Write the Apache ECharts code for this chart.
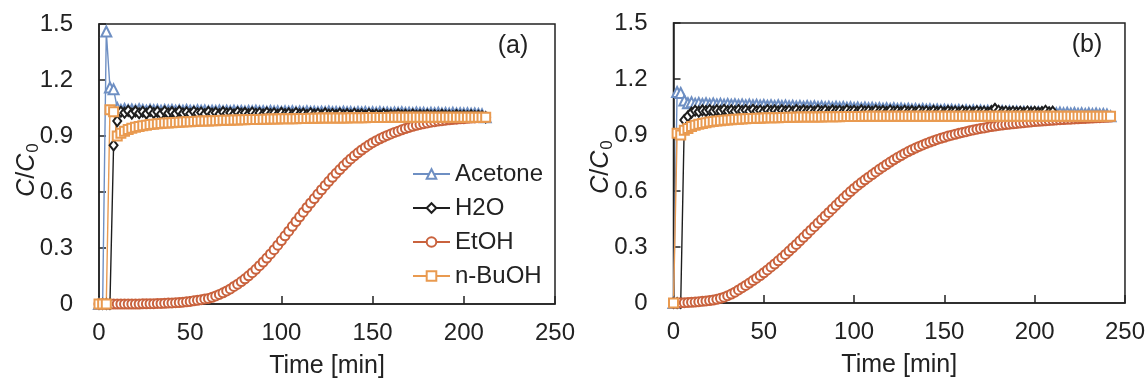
<!DOCTYPE html>
<html><head><meta charset="utf-8">
<script src="https://cdn.jsdelivr.net/npm/echarts@6/dist/echarts.min.js"></script>
<style>html,body{margin:0;padding:0;background:#fff}#c{width:1148px;height:384px}</style>
</head><body><div id="c"></div>
<script>
// ---------- Panel (a) ----------
const timeA = [0,2,4,6,8,10,12,14,16,18,20,22,24,26,28,30,32,34,36,38,40,42,44,46,48,50,52,54,56,58,60,62,64,66,68,70,72,74,76,78,80,82,84,86,88,90,92,94,96,98,100,102,104,106,108,110,112,114,116,118,120,122,124,126,128,130,132,134,136,138,140,142,144,146,148,150,152,154,156,158,160,162,164,166,168,170,172,174,176,178,180,182,184,186,188,190,192,194,196,198,200,202,204,206,208,210,212];
const acetoneA = [0,0,1.46,1.16,1.15,1.05,1.04,1.045,1.04,1.042,
1.038,1.043,1.04,1.036,1.041,1.038,1.04,1.035,1.039,1.037,
1.04,1.036,1.038,1.035,1.039,1.036,1.034,1.038,1.035,1.037,
1.033,1.036,1.034,1.037,1.033,1.035,1.032,1.036,1.033,1.034,
1.031,1.034,1.032,1.035,1.031,1.033,1.03,1.034,1.031,1.032,
1.029,1.032,1.03,1.033,1.029,1.031,1.028,1.032,1.029,1.03,
1.027,1.03,1.028,1.031,1.027,1.029,1.026,1.03,1.027,1.028,
1.025,1.028,1.026,1.029,1.025,1.027,1.024,1.028,1.025,1.026,
1.023,1.026,1.024,1.027,1.023,1.025,1.022,1.026,1.023,1.024,
1.021,1.024,1.022,1.025,1.021,1.023,1.02,1.024,1.021,1.022,
1.02,1.022,1.019,1.021,1.018,1.016,1.0];
const h2oA = [0,0,0,0,0.85,0.98,1.03,1.025,1.035,1.02,
1.032,1.022,1.03,1.02,1.034,1.023,1.03,1.018,1.031,1.022,
1.028,1.02,1.032,1.021,1.027,1.019,1.03,1.022,1.026,1.018,
1.029,1.02,1.025,1.017,1.028,1.021,1.024,1.016,1.027,1.02,
1.024,1.017,1.026,1.019,1.023,1.016,1.025,1.018,1.022,1.015,
1.024,1.017,1.021,1.015,1.023,1.016,1.02,1.014,1.022,1.016,
1.019,1.013,1.021,1.015,1.018,1.013,1.02,1.014,1.017,1.012,
1.019,1.013,1.016,1.011,1.018,1.012,1.015,1.011,1.017,1.012,
1.014,1.01,1.016,1.011,1.013,1.009,1.015,1.01,1.012,1.009,
1.014,1.009,1.011,1.008,1.013,1.009,1.01,1.007,1.012,1.008,
1.009,1.007,1.011,1.007,1.008,1.006,1.0];
const etohA = [0,0,0,0,0,0,0,0,0,0,
0,0,0.001,0.001,0.002,0.002,0.003,0.003,0.004,0.005,
0.006,0.007,0.008,0.01,0.012,0.014,0.017,0.02,0.023,0.027,
0.03,0.036,0.043,0.051,0.06,0.07,0.081,
0.094,0.106,0.12,0.135,0.151,0.168,0.186,0.205,0.225,0.246,
0.268,0.291,0.315,0.34,0.365,0.39,0.416,0.442,0.467,0.492,
0.517,0.541,0.565,0.589,0.612,0.635,0.657,0.679,0.7,0.72,
0.74,0.759,0.777,0.794,0.81,0.825,0.839,0.852,0.864,0.875,
0.885,0.894,0.903,0.911,0.919,0.926,0.933,0.94,0.946,0.952,
0.957,0.962,0.966,0.97,0.974,0.977,0.98,0.982,0.985,0.987,
0.989,0.99,0.992,0.993,0.995,0.996,0.997,0.998,0.999,1.0];
const buohA = [0,0,0,1.04,1.03,0.9,0.915,0.925,0.935,0.942,
0.947,0.951,0.955,0.958,0.961,0.963,0.965,0.967,0.969,0.97,
0.971,0.972,0.974,0.975,0.976,0.977,0.978,0.979,0.98,0.98,
0.981,0.982,0.982,0.983,0.984,0.984,0.985,0.986,0.986,0.987,
0.987,0.988,0.988,0.989,0.989,0.99,0.99,0.991,0.991,0.991,
0.992,0.992,0.993,0.993,0.993,0.994,0.994,0.994,0.995,0.995,
0.995,0.996,0.996,0.996,0.996,0.997,0.997,0.997,0.997,0.998,
0.998,0.998,0.998,0.998,0.999,0.999,0.999,0.999,0.999,0.999,
1,1,1,1,1,1,1,1,1,1,
1,1,1,1,1,1,1,1,1,1,
1,1,1,1,1,1,1];

// ---------- Panel (b) ----------
const timeB = [0,2,4,6,8,10,12,14,16,18,20,22,24,26,28,30,32,34,36,38,40,42,44,46,48,50,52,54,56,58,60,62,64,66,68,70,72,74,76,78,80,82,84,86,88,90,92,94,96,98,100,102,104,106,108,110,112,114,116,118,120,122,124,126,128,130,132,134,136,138,140,142,144,146,148,150,152,154,156,158,160,162,164,166,168,170,172,174,176,178,180,182,184,186,188,190,192,194,196,198,200,202,204,206,208,210,212,214,216,218,220,222,224,226,228,230,232,234,236,238,240,242];
const acetoneB = [0,1.13,1.125,1.085,1.07,1.075,1.068,1.072,1.066,1.07,
1.065,1.069,1.064,1.067,1.063,1.066,1.062,1.065,1.061,1.064,
1.06,1.063,1.059,1.062,1.058,1.061,1.057,1.06,1.056,1.059,
1.055,1.058,1.054,1.057,1.053,1.056,1.052,1.055,1.051,1.054,
1.05,1.053,1.049,1.052,1.048,1.051,1.047,1.05,1.046,1.049,
1.045,1.048,1.044,1.047,1.043,1.046,1.042,1.045,1.041,1.044,
1.04,1.043,1.039,1.042,1.038,1.041,1.037,1.04,1.036,1.039,
1.035,1.038,1.034,1.037,1.033,1.036,1.032,1.035,1.031,1.034,
1.03,1.033,1.029,1.032,1.028,1.031,1.027,1.03,1.026,1.029,
1.025,1.028,1.024,1.027,1.023,1.026,1.022,1.025,1.021,1.024,
1.02,1.023,1.019,1.022,1.018,1.021,1.017,1.02,1.016,1.019,
1.015,1.018,1.014,1.017,1.013,1.016,1.012,1.015,1.011,1.013,
1.01,1.0];
const h2oB = [0,0,0,0.98,1.0,1.02,1.03,1.025,1.032,1.028,
1.034,1.027,1.033,1.029,1.035,1.028,1.032,1.027,1.034,1.029,
1.033,1.027,1.035,1.028,1.031,1.026,1.034,1.029,1.032,1.027,
1.033,1.028,1.031,1.026,1.034,1.027,1.032,1.028,1.03,1.026,
1.033,1.027,1.031,1.025,1.032,1.028,1.03,1.026,1.033,1.027,
1.03,1.025,1.032,1.027,1.029,1.025,1.031,1.026,1.029,1.024,
1.031,1.026,1.028,1.024,1.03,1.025,1.028,1.023,1.03,1.025,
1.027,1.023,1.029,1.024,1.027,1.022,1.028,1.024,1.026,1.022,
1.028,1.023,1.026,1.022,1.027,1.023,1.025,1.021,1.028,1.04,
1.03,1.024,1.026,1.021,1.025,1.022,1.024,1.02,1.026,1.021,
1.024,1.02,1.023,1.03,1.022,1.025];
const etohB = [0,0,0.001,0.002,0.003,0.004,0.005,0.007,0.009,0.011,
0.013,0.016,0.02,0.025,0.031,0.039,0.048,0.058,
0.07,0.082,0.094,0.107,0.12,0.133,0.147,0.162,0.177,0.193,
0.209,0.226,0.243,0.26,0.278,0.296,0.314,0.333,0.352,0.371,
0.39,0.409,0.428,0.447,0.466,0.485,0.504,0.523,0.542,0.561,
0.579,0.597,0.614,0.63,0.645,0.66,0.674,0.688,0.702,0.716,
0.729,0.742,0.755,0.767,0.779,0.79,0.801,0.811,0.821,0.83,
0.839,0.847,0.855,0.862,0.869,0.876,0.882,0.888,0.894,0.899,
0.904,0.909,0.914,0.918,0.923,0.927,0.931,0.935,0.938,0.942,
0.945,0.948,0.951,0.953,0.956,0.958,0.96,0.962,0.964,0.966,
0.968,0.97,0.972,0.973,0.975,0.976,0.978,0.979,0.981,0.982,
0.983,0.984,0.985,0.986,0.987,0.988,0.989,0.99,0.991,0.992,
0.993,0.994,0.995,0.996];
const buohB = [0,0.91,0.9,0.925,0.935,0.945,0.952,0.957,0.962,0.966,
0.969,0.972,0.975,0.977,0.979,0.981,0.982,0.984,0.985,0.986,
0.987,0.988,0.989,0.99,0.99,0.991,0.992,0.992,0.993,0.993,
0.994,0.994,0.995,0.995,0.995,0.996,0.996,0.996,0.997,0.997,
0.997,0.997,0.998,0.998,0.998,0.998,0.998,0.999,0.999,0.999,
0.999,0.999,0.999,1,1,1,1,1,1,1,
1,1,1,1,1,1,1,1,1,1,
1,1,1,1,1,1,1,1,1,1,
1,1,1,1,1,1,1,1,1,1,
1,1,1,1,1,1,1,1,1,1,
1,1,1,1,1,1,1,1,1,1,
1,1,1,1,1,1,1,1,1,1,
1,1];

const seriesNames = ['Acetone','H2O','EtOH','n-BuOH'];
const xTicks = {min:0, max:250, step:50};
const yTicks = {min:0, max:1.5, step:0.3};
const panelLabels = ['(a)','(b)'];
const xTitle = 'Time [min]';

const FONT = 'Liberation Sans, Arial, sans-serif';
const INK = '#222';
const colors = {'Acetone':'#6e8fc3','H2O':'#1e1e1e','EtOH':'#c9623d','n-BuOH':'#e99a50'};
const symbols = {'Acetone':'emptyTriangle','H2O':'emptyDiamond','EtOH':'emptyCircle','n-BuOH':'emptyRect'};
const sizes = {'Acetone':10,'H2O':[8,10],'EtOH':9,'n-BuOH':9};

function pairs(t, v){ return v.map((y,i)=>[t[i], y]); }

function mkX(idx){
  return {type:'value', gridIndex:idx, min:xTicks.min, max:xTicks.max, interval:xTicks.step,
    axisLine:{show:true, onZero:false, lineStyle:{color:INK, width:1.5}},
    axisTick:{show:true, inside:true, length:8, lineStyle:{color:INK, width:1.5}},
    axisLabel:{fontSize:24, color:INK, margin:17, fontFamily:FONT},
    splitLine:{show:false},
    name:xTitle, nameLocation:'middle', nameGap:50,
    nameTextStyle:{fontSize:25, color:INK, fontFamily:FONT}};
}
function mkY(idx){
  return {type:'value', gridIndex:idx, min:yTicks.min, max:yTicks.max, interval:yTicks.step,
    axisLine:{show:true, onZero:false, lineStyle:{color:INK, width:1.5}},
    axisTick:{show:true, inside:true, length:7, lineStyle:{color:INK, width:1.5}},
    axisLabel:{fontSize:24, color:INK, margin:26, fontFamily:FONT},
    splitLine:{show:false}};
}
function yTitle(x, y){
  return {type:'text', x:x, y:y, rotation:Math.PI/2, z:10,
    style:{text:'{i|C}{n|/}{i|C}{s|0}', align:'center', verticalAlign:'middle', fill:INK,
      font:'24px ' + FONT,
      rich:{i:{fontStyle:'italic', fontSize:25, fill:INK, fontFamily:FONT},
            n:{fontSize:25, fill:INK, fontFamily:FONT},
            s:{fontSize:17, fill:INK, fontFamily:FONT, padding:[12,0,0,1]}}}};
}
function mkSeries(name, t, v, idx){
  const c = colors[name];
  return {name, type:'line', xAxisIndex:idx, yAxisIndex:idx, data:pairs(t,v),
    symbol:symbols[name], symbolSize:sizes[name], showAllSymbol:true,
    color:c, lineStyle:{color:c, width:1.4}, itemStyle:{color:c, borderWidth:1.3},
    emphasis:{disabled:true}, animation:false};
}

const chart = echarts.init(document.getElementById('c'));
chart.setOption({
  animation:false,
  backgroundColor:'#fff',
  grid:[
    {left:99, top:24, width:456, height:282, show:true, borderColor:INK, borderWidth:1.5, backgroundColor:'transparent'},
    {left:673.5, top:23, width:456.5, height:280, show:true, borderColor:INK, borderWidth:1.5, backgroundColor:'transparent'}
  ],
  xAxis:[mkX(0), mkX(1)],
  yAxis:[mkY(0), mkY(1)],
  legend:{show:true, orient:'vertical', left:407, top:157, itemWidth:37, itemHeight:12, itemGap:10,
    data:seriesNames, textStyle:{fontSize:24, color:INK, fontFamily:FONT}, selectedMode:false},
  graphic:[
    {type:'text', x:513, y:46, style:{text:panelLabels[0], fontSize:25, fill:INK, fontFamily:FONT, align:'center', verticalAlign:'middle'}},
    {type:'text', x:1087, y:45, style:{text:panelLabels[1], fontSize:25, fill:INK, fontFamily:FONT, align:'center', verticalAlign:'middle'}},
    yTitle(27, 170),
    yTitle(601, 167)
  ],
  series:[
    mkSeries('Acetone', timeA, acetoneA, 0),
    mkSeries('H2O', timeA, h2oA, 0),
    mkSeries('EtOH', timeA, etohA, 0),
    mkSeries('n-BuOH', timeA, buohA, 0),
    mkSeries('Acetone', timeB, acetoneB, 1),
    mkSeries('H2O', timeB, h2oB, 1),
    mkSeries('EtOH', timeB, etohB, 1),
    mkSeries('n-BuOH', timeB, buohB, 1)
  ]
});
</script>
</body></html>
